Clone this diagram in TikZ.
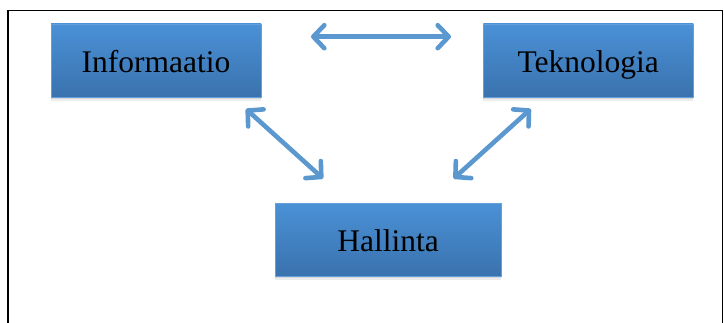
\documentclass[tikz,border=0pt]{standalone}
\usepackage{fontspec}
\setmainfont{Liberation Serif}
\usetikzlibrary{arrows.meta,shadows}
\definecolor{boxtop}{RGB}{74,145,214}
\definecolor{boxbot}{RGB}{58,114,174}
\definecolor{boxedge}{RGB}{100,160,220}
\definecolor{arr}{RGB}{91,152,208}
\tikzset{
  boxnode/.style={draw=boxedge, line width=0.8pt, top color=boxtop, bottom color=boxbot,
    minimum width=#1, minimum height=73pt, inner sep=0pt,
    text height=28.4pt, text depth=4pt,
    font=\fontsize{31.5}{36}\selectfont, text=black,
    drop shadow={shadow xshift=0pt, shadow yshift=-4pt, opacity=0.12, fill=black!60},
    drop shadow={shadow xshift=0pt, shadow yshift=-2pt, opacity=0.15, fill=black!60}},
  dblarrow/.style={draw=arr, line width=4.6pt, line cap=round,
    {Straight Barb[length=11pt,width=23pt,line cap=round,line join=round]}-{Straight Barb[length=11pt,width=23pt,line cap=round,line join=round]}},
  frameline/.style={draw=black, line width=1.5pt}
}
\begin{document}
\begin{tikzpicture}[x=1pt,y=-1pt]
\useasboundingbox (0,0) rectangle (724,323);
\coordinate (fl) at (8,324);
\coordinate (ftl) at (8,10.7);
\coordinate (ftr) at (722.7,10.7);
\coordinate (fr) at (722.7,324);
\draw[frameline] (fl) -- (ftl) -- (ftr) -- (fr);
\node[boxnode=210pt] (inf) at (156,60.5) {Informaatio};
\node[boxnode=210pt] (tek) at (588.3,60.5) {Teknologia};
\node[boxnode=225.7pt] (hal) at (388.2,239.7) {Hallinta};
\coordinate (t1) at (311,36.7);
\coordinate (t2) at (451,36.7);
\coordinate (l1) at (246,109);
\coordinate (l2) at (323,178.5);
\coordinate (r1) at (530.7,109);
\coordinate (r2) at (453.7,178.5);
\draw[dblarrow] (t1) -- (t2);
\draw[dblarrow] (l1) -- (l2);
\draw[dblarrow] (r1) -- (r2);
\end{tikzpicture}
\end{document}
